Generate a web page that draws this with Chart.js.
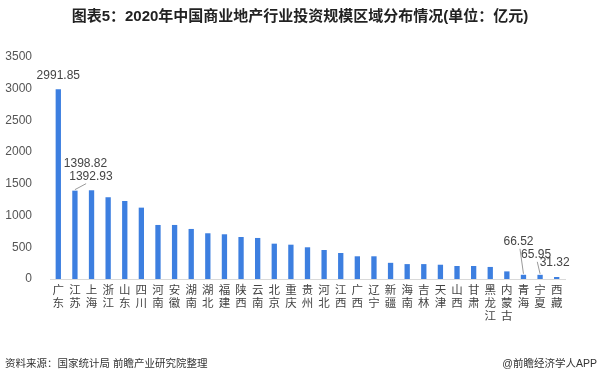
<!DOCTYPE html>
<html>
<head>
<meta charset="utf-8">
<script src="https://cdn.jsdelivr.net/npm/chart.js@4/dist/chart.umd.min.js"></script>
<style>
  html, body { margin: 0; padding: 0; background: #fff; }
  #wrap { width: 600px; height: 388px; position: relative; }
</style>
</head>
<body>
<div id="wrap"><canvas id="chart" width="600" height="388"></canvas></div>
<script>
const title = '图表5：2020年中国商业地产行业投资规模区域分布情况(单位：亿元)';
const source = '资料来源：国家统计局 前瞻产业研究院整理';
const brand = '@前瞻经济学人APP';

const provinces = ['广东', '江苏', '上海', '浙江', '山东', '四川', '河南', '安徽', '湖南', '湖北',
  '福建', '陕西', '云南', '北京', '重庆', '贵州', '河北', '江西', '广西', '辽宁',
  '新疆', '海南', '吉林', '天津', '山西', '甘肃', '黑龙江', '内蒙古', '青海', '宁夏', '西藏'];
const investment = [2991.85, 1392.93, 1398.82, 1289, 1230, 1125, 852, 852, 789, 721,
  705, 662, 647, 557, 541, 500, 457, 410, 358, 358,
  255, 235, 235, 225, 205, 205, 190, 120, 66.52, 65.95, 31.32];
const yTicks = [0, 500, 1000, 1500, 2000, 2500, 3000, 3500];

const FONT = '"Liberation Sans", "Noto Sans CJK SC", sans-serif';

// 标注：哪些柱子显示数值，及标签偏移
const callouts = [
  { i: 0, dx: 0, dy: -14 },
  { i: 2, dx: -6, dy: -27 },
  { i: 1, dx: 16, dy: -14, line: true },
  { i: 28, dx: -5, dy: -33, line: true },
  { i: 29, dx: -4, dy: -20, line: true },
  { i: 30, dx: -2, dy: -14 }
];

const extras = {
  id: 'extras',
  afterDatasetsDraw(chart) {
    const ctx = chart.ctx;
    const meta = chart.getDatasetMeta(0);
    ctx.save();
    ctx.font = '12px ' + FONT;
    ctx.fillStyle = '#444';
    ctx.textAlign = 'center';
    ctx.textBaseline = 'middle';
    callouts.forEach(c => {
      const bar = meta.data[c.i];
      const x = bar.x + c.dx, y = bar.y + c.dy;
      ctx.fillText(investment[c.i].toFixed(2), x, y);
      if (c.line) {
        ctx.strokeStyle = '#999';
        ctx.lineWidth = 1;
        ctx.beginPath();
        ctx.moveTo(x - c.dx * 0.3, y + 7);
        ctx.lineTo(bar.x, bar.y - 1);
        ctx.stroke();
      }
    });
    ctx.restore();
  },
  afterDraw(chart) {
    const ctx = chart.ctx;
    ctx.save();
    ctx.fillStyle = '#222';
    ctx.font = 'bold 15px ' + FONT;
    ctx.textAlign = 'center';
    ctx.textBaseline = 'middle';
    ctx.fillText(title, 300, 17);
    ctx.font = '10.5px ' + FONT;
    ctx.fillStyle = '#333';
    ctx.textAlign = 'left';
    ctx.fillText(source, 5, 364);
    ctx.textAlign = 'right';
    ctx.fillText(brand, 597, 364);
    ctx.restore();
  }
};

new Chart(document.getElementById('chart'), {
  type: 'bar',
  data: {
    labels: provinces.map(p => p.split('')),
    datasets: [{
      data: investment,
      backgroundColor: '#3d7fe0',
      categoryPercentage: 1,
      barPercentage: 0.32
    }]
  },
  options: {
    responsive: false,
    animation: false,
    layout: { padding: { top: 57, right: 35, left: 0, bottom: 0 } },
    plugins: { legend: { display: false }, tooltip: { enabled: false } },
    scales: {
      x: {
        grid: { display: false },
        border: { color: '#d9d9d9' },
        ticks: {
          autoSkip: false, maxRotation: 0, minRotation: 0, padding: -3,
          color: '#444', font: { family: FONT, size: 11.5, lineHeight: 1.15 }
        },
        afterFit(scale) { scale.height = 109; }
      },
      y: {
        min: 0, max: 3500,
        grid: { display: false },
        border: { display: false },
        afterBuildTicks(scale) { scale.ticks = yTicks.map(v => ({ value: v })); },
        ticks: {
          padding: 10, color: '#555', font: { family: FONT, size: 12 },
          callback: v => String(v)
        },
        afterFit(scale) { scale.width = 50; }
      }
    }
  },
  plugins: [extras]
});
</script>
</body>
</html>
